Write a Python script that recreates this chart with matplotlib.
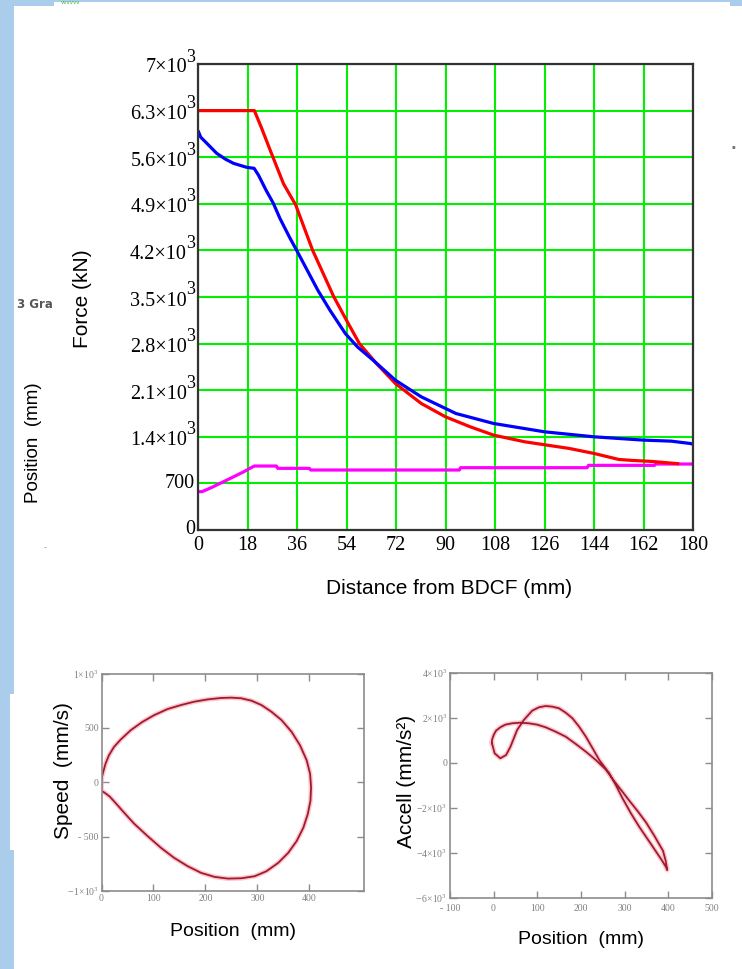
import numpy as np
import matplotlib
matplotlib.use('Agg')
import matplotlib.pyplot as plt
from matplotlib.patches import Rectangle

W, H = 742, 969

# ---- main chart: force vs distance from BDCF ----
dist_ticks = [0, 18, 36, 54, 72, 90, 108, 126, 144, 162, 180]
force_ticks = [0, 700, 1400, 2100, 2800, 3500, 4200, 4900, 5600, 6300, 7000]
force_tick_labels = ['0', '700', '1.4', '2.1', '2.8', '3.5', '4.2', '4.9', '5.6', '6.3', '7']

red_x = [0, 10, 20.5, 23, 26.3, 31.1, 35.5, 41.7, 49.3, 54, 58.7, 64.9, 71.8, 81.2,
         90, 99, 107.5, 118.8, 135, 144, 153, 158, 165, 172, 175]
red_y = [6300, 6300, 6300, 6050, 5700, 5200, 4885, 4200, 3510, 3150, 2800, 2500, 2200, 1900,
         1700, 1550, 1425, 1325, 1225, 1150, 1060, 1045, 1030, 1005, 995]

blue_x = [0, 1, 3.2, 6.8, 10, 12.9, 17.7, 20.4, 22, 24.8, 27.4, 29.8, 33.5, 35.5, 40,
          43.6, 48, 53.6, 58, 63.7, 71.8, 81.2, 93.8, 107.5, 126, 143.9, 162, 172, 178.9, 180]
blue_y = [6000, 5900, 5809, 5658, 5570, 5508, 5448, 5433, 5330, 5100, 4907, 4680, 4380, 4230, 3880,
          3600, 3300, 2950, 2750, 2550, 2250, 2000, 1750, 1600, 1475, 1400, 1350, 1335, 1300, 1290]

mag_x = [0, 1.5, 5, 10, 16.7, 19, 20.5, 28.5, 29, 40.5, 41, 95, 95.5, 141.5, 142, 166, 166.5, 180]
mag_y = [576, 576, 640, 740, 876, 930, 961, 961, 926, 926, 901, 901, 936, 936, 971, 971, 991, 991]

# ---- speed vs position loop ----
spd_pos = [0, 3.2, 7.7, 14.2, 23.9, 36.8, 56.1, 78.7, 101.3, 127, 152.9, 178.7, 204.5, 230.3,
           249.7, 269, 288.4, 307.7, 327, 346.5, 365.8, 382, 394.8, 401.3, 403.2, 402, 396.8,
           388.4, 375.5, 359.4, 340, 317.4, 294.8, 269, 243.2, 217.4, 191.6, 165.8, 139.4,
           114.2, 88.4, 62.6, 43.2, 27.1, 16.1, 7.7, 0, 0]
spd_val = [31, 93, 170, 247, 324, 392, 478, 555, 617, 673, 710, 741, 762, 775,
           778, 772, 750, 710, 648, 571, 463, 339, 201, 77, -46, -170, -293,
           -417, -540, -648, -741, -818, -864, -883, -886, -870, -833, -772, -694,
           -602, -494, -380, -278, -191, -133, -102, -77, 31]
spd_xticks = [0, 100, 200, 300, 400]
spd_yticks = [-1000, -500, 0, 500, 1000]
spd_ylabels = [r'$-\,1{\times}10^3$', '- 500', '0', '500', r'$1{\times}10^3$']

# ---- acceleration vs position loop ----
acc_pos = [-3.5, 2.6, 15.6, 28.8, 38.8, 46.5, 54, 69.4, 88.5, 103.9, 119.4, 134.6, 150, 165.3,
           180.7, 196, 211.4, 226.8, 242, 265, 280.4, 295.6, 314.9, 334, 353.3, 372.4, 386.2,
           395.5, 397.5, 394, 387.8, 368.5, 349.4, 330.3, 311, 291.9, 272.7, 257.4, 234.3,
           211.4, 188.4, 165.3, 142.1, 119.4, 100.1, 81, 61.7, 42.6, 27.1, 15.6, 5.8, 0.4, -3.5, -3.5]
acc_val = [876, 431, 209, 356, 724, 1098, 1467, 1911, 2324, 2476, 2533, 2504, 2431, 2236,
           1987, 1613, 1169, 653, 133, -458, -1000, -1580, -2250, -2850, -3400, -3950, -4350,
           -4650, -4760, -4350, -3900, -3250, -2650, -2150, -1680, -1200, -720, -300, 133,
           502, 844, 1169, 1393, 1587, 1704, 1764, 1793, 1764, 1704, 1587, 1436, 1244, 1022, 876]
acc_xticks = [-100, 0, 100, 200, 300, 400, 500]
acc_xlabels = ['- 100', '0', '100', '200', '300', '400', '500']
acc_yticks = [-6000, -4000, -2000, 0, 2000, 4000]
acc_ylabels = [r'$-\,6{\times}10^3$', r'$-4{\times}10^3$', r'$-2{\times}10^3$', '0',
               r'$2{\times}10^3$', r'$4{\times}10^3$']

plt.rcParams['font.family'] = ['Liberation Serif', 'DejaVu Serif']
plt.rcParams['mathtext.fontset'] = 'custom'
plt.rcParams['mathtext.rm'] = 'Liberation Serif'
plt.rcParams['mathtext.it'] = 'Liberation Serif:italic'
SANS = ['Liberation Sans', 'DejaVu Sans']
BG = '#a9cdea'


def box(l, t, r, b):
    return [l / W, 1 - b / H, (r - l) / W, (b - t) / H]


def frect(fig, l, t, r, b, color='white'):
    fig.patches.append(Rectangle((l / W, 1 - b / H), (r - l) / W, (b - t) / H,
                                 transform=fig.transFigure, color=color, zorder=-5, lw=0))


fig = plt.figure(figsize=(W / 100, H / 100), dpi=100, facecolor=BG)
frect(fig, 14, 6, W, H)
frect(fig, 54, 1.5, 730, 7)
frect(fig, 10, 694, 15, 850)

# main axes
ax = fig.add_axes(box(198, 64, 693, 530))
ax.plot(mag_x, mag_y, color='#ff00ff', lw=2.3, solid_capstyle='butt')
ax.plot(red_x, red_y, color='#ff0000', lw=2.3, solid_capstyle='butt')
ax.plot(blue_x, blue_y, color='#0000ff', lw=2.3, solid_capstyle='butt')
ax.set_xlim(0, 180)
ax.set_ylim(0, 7000)
ax.set_xticks(dist_ticks)
ax.set_yticks(force_ticks)
ax.set_yticklabels([])
ax.grid(True, color='#00f000', lw=1.5)
ax.set_axisbelow(True)
ax.tick_params(length=0, labelsize=14.5, pad=4)
for sp in ax.spines.values():
    sp.set_color('#333333')
    sp.set_linewidth(1.6)
for v, lab in zip(force_ticks, force_tick_labels):
    if v < 1400:
        ax.annotate(lab, xy=(0, v), xycoords=('axes fraction', 'data'), xytext=(-3, 0),
                    textcoords='offset pixels', ha='right', va='center', fontsize=14.5)
    else:
        ax.annotate(lab + '×10', xy=(0, v), xycoords=('axes fraction', 'data'), xytext=(-11, -4),
                    textcoords='offset pixels', ha='right', va='center', fontsize=14.5)
        ax.annotate('3', xy=(0, v), xycoords=('axes fraction', 'data'), xytext=(-3, 7),
                    textcoords='offset pixels', ha='right', va='center', fontsize=13)

fig.text(83 / W, 1 - 299 / H, 'Force (kN)', rotation=90, ha='center', va='center',
         fontsize=15, family=SANS)
fig.text(34 / W, 1 - 443 / H, 'Position  (mm)', rotation=90, ha='center', va='center',
         fontsize=13.5, family=SANS)
fig.text(449 / W, 1 - 589 / H, 'Distance from BDCF (mm)', ha='center', va='center',
         fontsize=15, family=SANS)
fig.text(35 / W, 1 - 305 / H, '3 Gra', ha='center', va='center', fontsize=8.5,
         family=['DejaVu Sans'], weight='bold', color='#555555')
fig.text(45 / W, 1 - 548 / H, '-', ha='center', va='center', fontsize=6,
         family=['DejaVu Sans'], color='#999999')
fig.text(71 / W, 1 - 2 / H, 'vvvvvv', ha='center', va='center', fontsize=4,
         family=['DejaVu Sans'], color='#3cb43c')
fig.text(733 / W, 1 - 147 / H, '▪', ha='center', va='center', fontsize=4,
         family=['DejaVu Sans'], color='#777777')


def small_axes(rect):
    a = fig.add_axes(rect)
    a.set_facecolor('none')
    a.tick_params(direction='in', length=5, width=1, color='#8c8c8c', top=True, right=True,
                  labelsize=7, labelcolor='#808080', pad=2)
    for sp in a.spines.values():
        sp.set_color('#8c8c8c')
        sp.set_linewidth(1.2)
    return a


# speed plot
ax2 = small_axes(box(101.5, 673.5, 364, 891))
ax2.plot(spd_pos, spd_val, color='#ff9fae', lw=3.4, alpha=0.6)
ax2.plot(spd_pos, spd_val, color='#9e1c30', lw=1.3)
ax2.set_xlim(0, 505)
ax2.set_ylim(-1000, 1000)
ax2.set_xticks(spd_xticks)
ax2.set_yticks(spd_yticks)
ax2.set_yticklabels(spd_ylabels)
fig.text(63.6 / W, 1 - 771 / H, 'Speed  (mm/s)', rotation=90, ha='center', va='center',
         fontsize=15, family=SANS)
fig.text(233 / W, 1 - 932 / H, 'Position  (mm)', ha='center', va='center',
         fontsize=14, family=SANS)

# acceleration plot
ax3 = small_axes(box(449.8, 673, 712, 898))
ax3.plot(acc_pos, acc_val, color='#ff9fae', lw=3.4, alpha=0.6)
ax3.plot(acc_pos, acc_val, color='#9e1c30', lw=1.3)
ax3.set_xlim(-100, 500)
ax3.set_ylim(-6000, 4000)
ax3.set_xticks(acc_xticks)
ax3.set_xticklabels(acc_xlabels)
ax3.set_yticks(acc_yticks)
ax3.set_yticklabels(acc_ylabels)
ax3.tick_params(axis='x', pad=4)
fig.text(407 / W, 1 - 781 / H, 'Accell (mm/s²)', rotation=90, ha='center', va='center',
         fontsize=15, family=SANS)
fig.text(581 / W, 1 - 940 / H, 'Position  (mm)', ha='center', va='center',
         fontsize=14, family=SANS)

fig.savefig('out.png', dpi=100, facecolor=BG)
